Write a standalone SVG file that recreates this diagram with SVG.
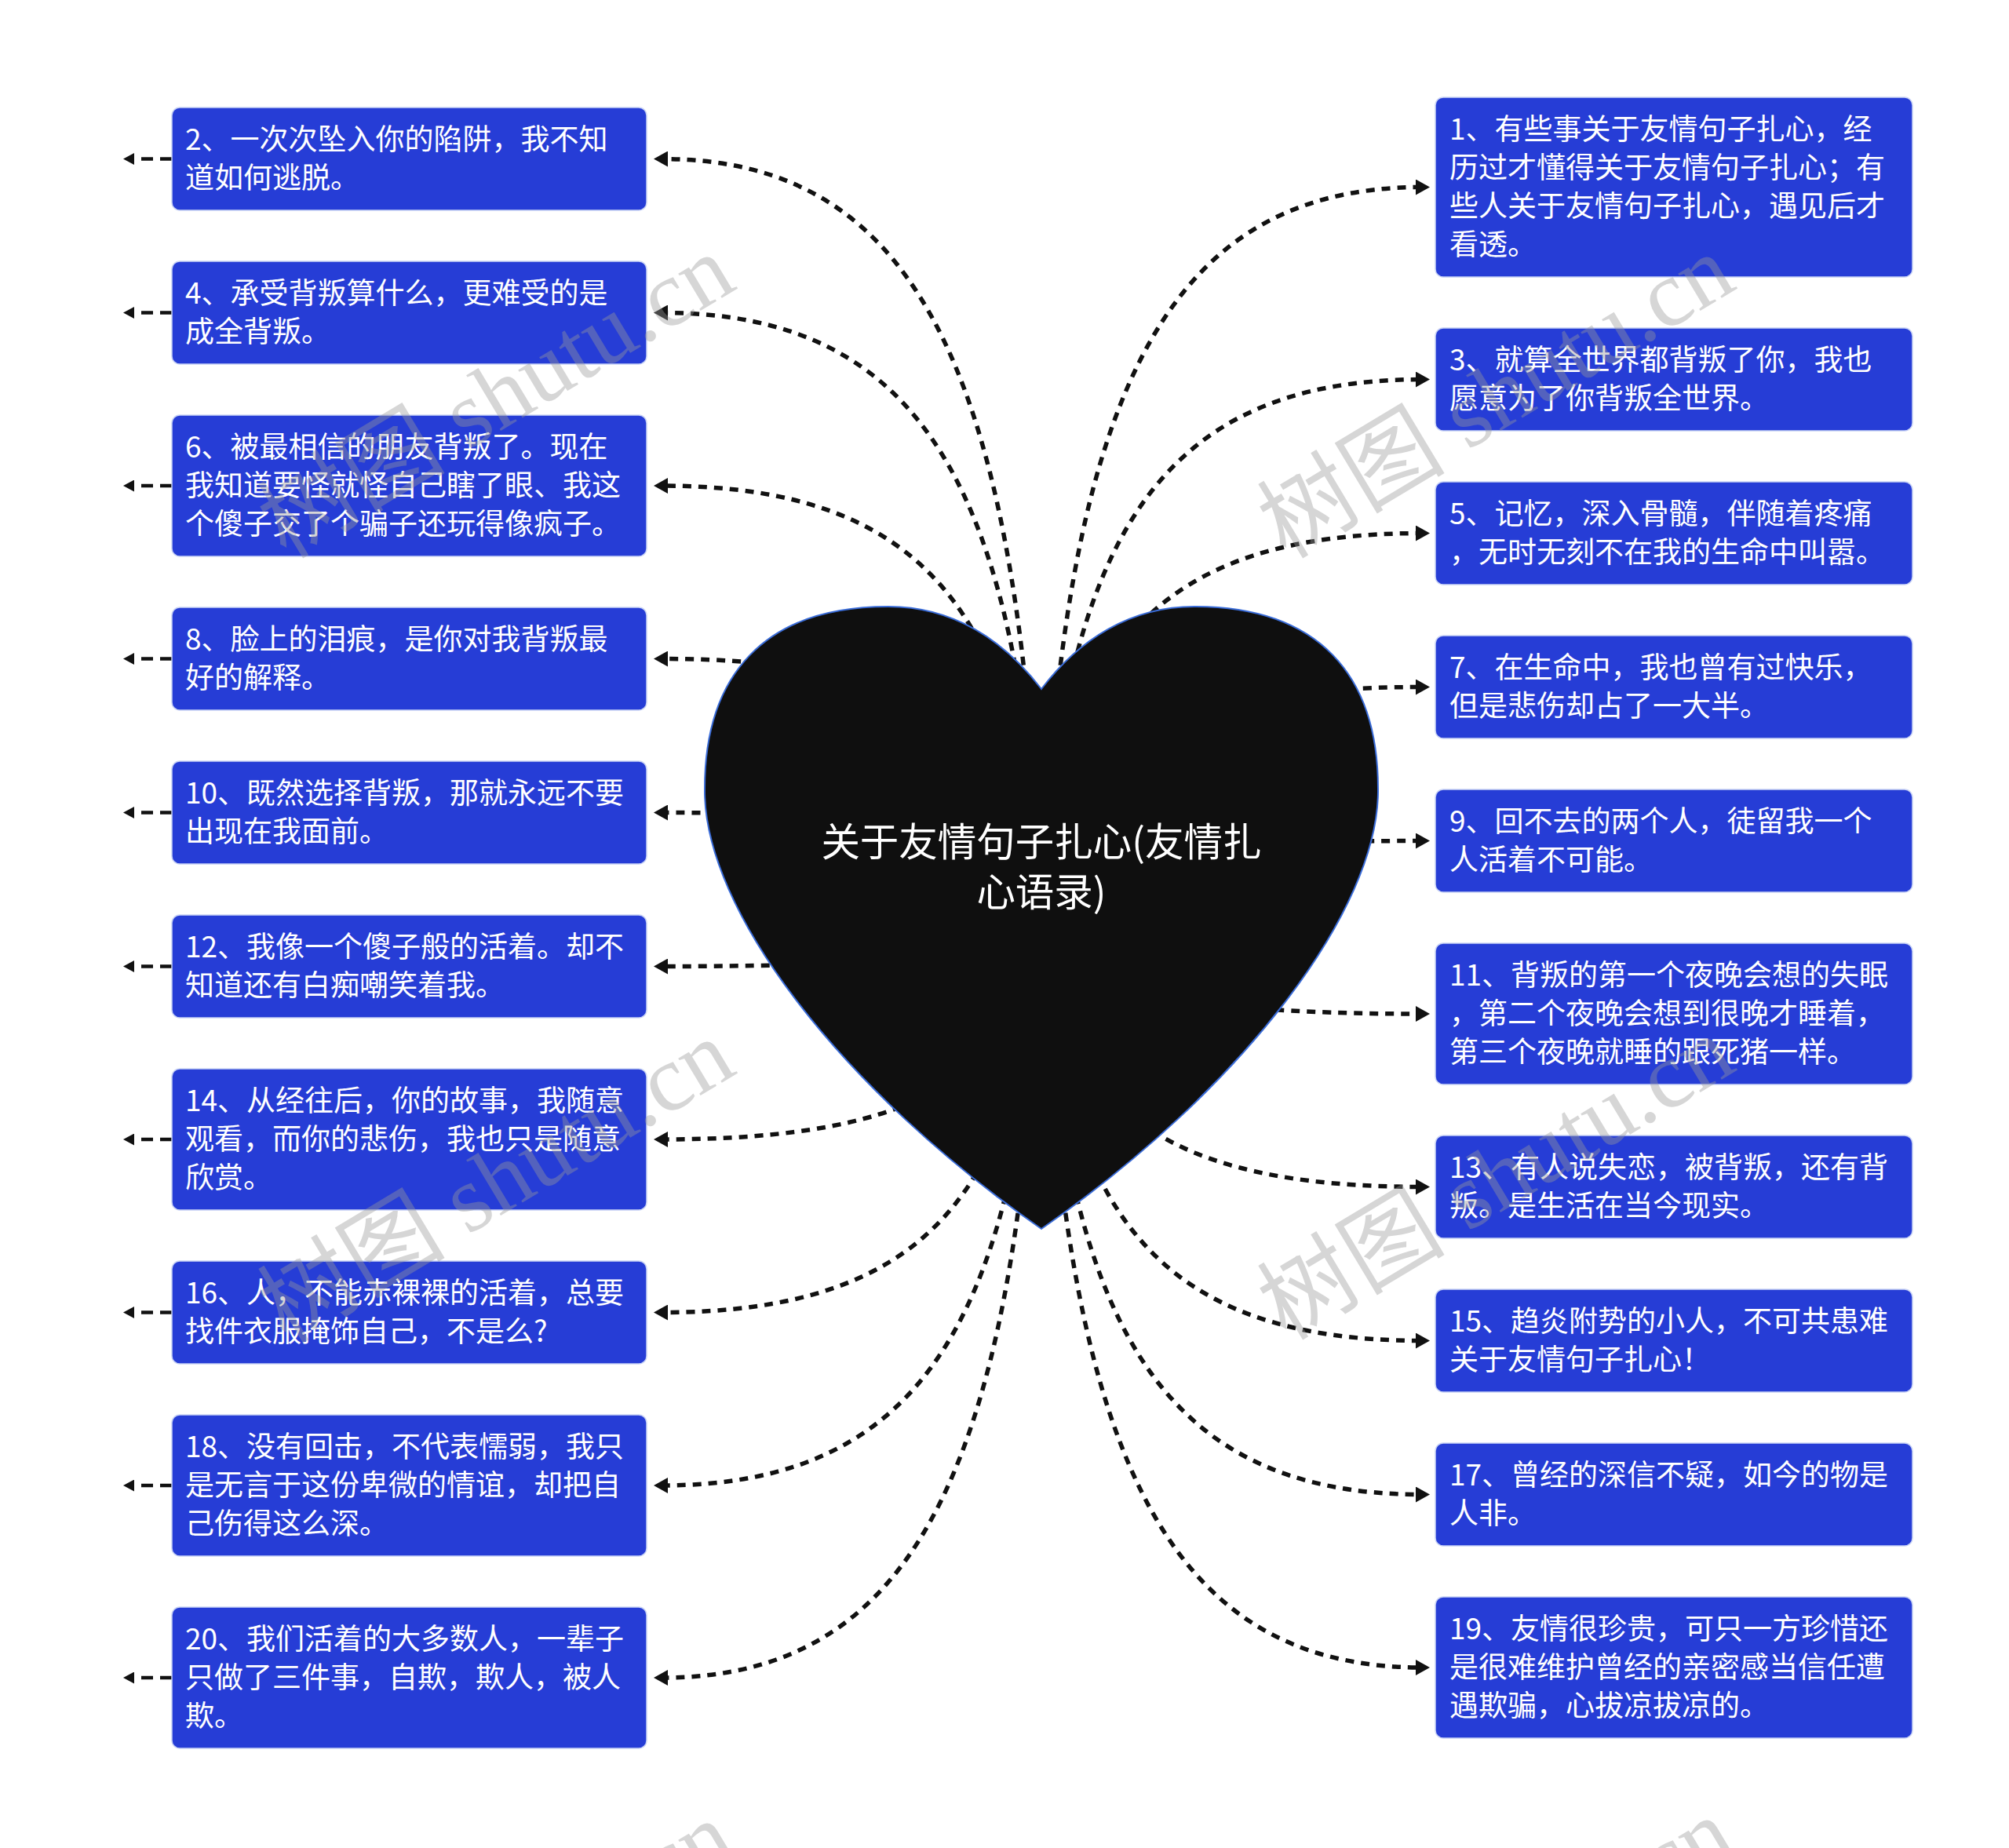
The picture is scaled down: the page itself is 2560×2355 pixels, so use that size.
<svg xmlns="http://www.w3.org/2000/svg" width="2560" height="2355" viewBox="0 0 2560 2355">
<defs>
<style>
.box{fill:#263dd6;stroke:#c9d3f5;stroke-width:1.5}
.bt{font-family:"Noto Sans CJK SC","Noto Sans",sans-serif;font-size:37px;fill:#ffffff}
.ct{font-family:"Noto Sans CJK SC","Noto Sans",sans-serif;font-size:49.5px;fill:#ffffff;text-anchor:middle}
.con{fill:none;stroke:#111111;stroke-width:5.5;stroke-dasharray:11 9;marker-end:url(#arr)}
.stub{fill:none;stroke:#111111;stroke-width:4.5;stroke-dasharray:15 9;marker-end:url(#arrs)}
.wm{font-family:"Liberation Serif","Noto Sans CJK SC",serif;font-size:120px;fill:#9a9a9a;opacity:0.4;text-anchor:middle}
</style>
<marker id="arr" viewBox="0 0 18 20" refX="8" refY="10" markerWidth="18" markerHeight="20" orient="auto" markerUnits="userSpaceOnUse"><path d="M0,0 L18,10 L0,20 Z" fill="#111111"/></marker>
<marker id="arrs" viewBox="0 0 14 15" refX="6" refY="7.5" markerWidth="14" markerHeight="15" orient="auto" markerUnits="userSpaceOnUse"><path d="M0,0 L14,7.5 L0,15 Z" fill="#111111"/></marker>
</defs>
<rect width="2560" height="2355" fill="#ffffff"/>
<g id="connectors">
<path class="con" d="M1327,1167 C1352,517 1476,238.5 1812,238.5"/>
<path class="con" d="M1327,1167 C1352,688.5 1476,483.5 1812,483.5"/>
<path class="con" d="M1327,1167 C1352,825.8 1476,679.5 1812,679.5"/>
<path class="con" d="M1327,1167 C1352,963 1476,875.5 1812,875.5"/>
<path class="con" d="M1327,1167 C1352,1100.2 1476,1071.5 1812,1071.5"/>
<path class="con" d="M1327,1167 C1352,1254.5 1476,1292 1812,1292"/>
<path class="con" d="M1327,1167 C1352,1408.9 1476,1512.5 1812,1512.5"/>
<path class="con" d="M1327,1167 C1352,1546 1476,1708.5 1812,1708.5"/>
<path class="con" d="M1327,1167 C1352,1683.3 1476,1904.5 1812,1904.5"/>
<path class="con" d="M1327,1167 C1352,1837.6 1476,2125 1812,2125"/>
<path class="con" d="M1327,1167 C1302,491.9 1179,202.5 843,202.5"/>
<path class="con" d="M1327,1167 C1302,629 1179,398.5 843,398.5"/>
<path class="con" d="M1327,1167 C1302,783.4 1179,619 843,619"/>
<path class="con" d="M1327,1167 C1302,937.8 1179,839.5 843,839.5"/>
<path class="con" d="M1327,1167 C1302,1075 1179,1035.5 843,1035.5"/>
<path class="con" d="M1327,1167 C1302,1212.2 1179,1231.5 843,1231.5"/>
<path class="con" d="M1327,1167 C1302,1366.5 1179,1452 843,1452"/>
<path class="con" d="M1327,1167 C1302,1520.9 1179,1672.5 843,1672.5"/>
<path class="con" d="M1327,1167 C1302,1675.2 1179,1893 843,1893"/>
<path class="con" d="M1327,1167 C1302,1846.7 1179,2138 843,2138"/>
<path class="stub" d="M219,202.5 L165,202.5"/>
<path class="stub" d="M219,398.5 L165,398.5"/>
<path class="stub" d="M219,619 L165,619"/>
<path class="stub" d="M219,839.5 L165,839.5"/>
<path class="stub" d="M219,1035.5 L165,1035.5"/>
<path class="stub" d="M219,1231.5 L165,1231.5"/>
<path class="stub" d="M219,1452 L165,1452"/>
<path class="stub" d="M219,1672.5 L165,1672.5"/>
<path class="stub" d="M219,1893 L165,1893"/>
<path class="stub" d="M219,2138 L165,2138"/>
</g>
<g id="center">
<path d="M1327,878 C1375,815 1440,773 1522,773 C1680,773 1756,860 1756,1005 C1758,1160 1580,1390 1327,1566 C1074,1390 896,1160 898,1005 C898,860 974,773 1132,773 C1214,773 1279,815 1327,878 Z" fill="#0f0f0f" stroke="#3a6cd8" stroke-width="2"/>
<text class="ct" x="1327" y="1091">关于友情句子扎心(友情扎</text>
<text class="ct" x="1327" y="1155">心语录)</text>
</g>
<g id="node-2"><rect class="box" x="219" y="137" width="605" height="131" rx="10"/><text class="bt" x="236" y="191">2、一次次坠入你的陷阱，我不知</text><text class="bt" x="236" y="240">道如何逃脱。</text></g>
<g id="node-4"><rect class="box" x="219" y="333" width="605" height="131" rx="10"/><text class="bt" x="236" y="387">4、承受背叛算什么，更难受的是</text><text class="bt" x="236" y="436">成全背叛。</text></g>
<g id="node-6"><rect class="box" x="219" y="529" width="605" height="180" rx="10"/><text class="bt" x="236" y="583">6、被最相信的朋友背叛了。现在</text><text class="bt" x="236" y="632">我知道要怪就怪自己瞎了眼、我这</text><text class="bt" x="236" y="681">个傻子交了个骗子还玩得像疯子。</text></g>
<g id="node-8"><rect class="box" x="219" y="774" width="605" height="131" rx="10"/><text class="bt" x="236" y="828">8、脸上的泪痕，是你对我背叛最</text><text class="bt" x="236" y="877">好的解释。</text></g>
<g id="node-10"><rect class="box" x="219" y="970" width="605" height="131" rx="10"/><text class="bt" x="236" y="1024">10、既然选择背叛，那就永远不要</text><text class="bt" x="236" y="1073">出现在我面前。</text></g>
<g id="node-12"><rect class="box" x="219" y="1166" width="605" height="131" rx="10"/><text class="bt" x="236" y="1220">12、我像一个傻子般的活着。却不</text><text class="bt" x="236" y="1269">知道还有白痴嘲笑着我。</text></g>
<g id="node-14"><rect class="box" x="219" y="1362" width="605" height="180" rx="10"/><text class="bt" x="236" y="1416">14、从经往后，你的故事，我随意</text><text class="bt" x="236" y="1465">观看，而你的悲伤，我也只是随意</text><text class="bt" x="236" y="1514">欣赏。</text></g>
<g id="node-16"><rect class="box" x="219" y="1607" width="605" height="131" rx="10"/><text class="bt" x="236" y="1661">16、人，不能赤裸裸的活着，总要</text><text class="bt" x="236" y="1710">找件衣服掩饰自己，不是么?</text></g>
<g id="node-18"><rect class="box" x="219" y="1803" width="605" height="180" rx="10"/><text class="bt" x="236" y="1857">18、没有回击，不代表懦弱，我只</text><text class="bt" x="236" y="1906">是无言于这份卑微的情谊，却把自</text><text class="bt" x="236" y="1955">己伤得这么深。</text></g>
<g id="node-20"><rect class="box" x="219" y="2048" width="605" height="180" rx="10"/><text class="bt" x="236" y="2102">20、我们活着的大多数人，一辈子</text><text class="bt" x="236" y="2151">只做了三件事，自欺，欺人，被人</text><text class="bt" x="236" y="2200">欺。</text></g>
<g id="node-1"><rect class="box" x="1829" y="124" width="608" height="229" rx="10"/><text class="bt" x="1847" y="178">1、有些事关于友情句子扎心，经</text><text class="bt" x="1847" y="227">历过才懂得关于友情句子扎心；有</text><text class="bt" x="1847" y="276">些人关于友情句子扎心，遇见后才</text><text class="bt" x="1847" y="325">看透。</text></g>
<g id="node-3"><rect class="box" x="1829" y="418" width="608" height="131" rx="10"/><text class="bt" x="1847" y="472">3、就算全世界都背叛了你，我也</text><text class="bt" x="1847" y="521">愿意为了你背叛全世界。</text></g>
<g id="node-5"><rect class="box" x="1829" y="614" width="608" height="131" rx="10"/><text class="bt" x="1847" y="668">5、记忆，深入骨髓，伴随着疼痛</text><text class="bt" x="1847" y="717">，无时无刻不在我的生命中叫嚣。</text></g>
<g id="node-7"><rect class="box" x="1829" y="810" width="608" height="131" rx="10"/><text class="bt" x="1847" y="864">7、在生命中，我也曾有过快乐，</text><text class="bt" x="1847" y="913">但是悲伤却占了一大半。</text></g>
<g id="node-9"><rect class="box" x="1829" y="1006" width="608" height="131" rx="10"/><text class="bt" x="1847" y="1060">9、回不去的两个人，徒留我一个</text><text class="bt" x="1847" y="1109">人活着不可能。</text></g>
<g id="node-11"><rect class="box" x="1829" y="1202" width="608" height="180" rx="10"/><text class="bt" x="1847" y="1256">11、背叛的第一个夜晚会想的失眠</text><text class="bt" x="1847" y="1305">，第二个夜晚会想到很晚才睡着，</text><text class="bt" x="1847" y="1354">第三个夜晚就睡的跟死猪一样。</text></g>
<g id="node-13"><rect class="box" x="1829" y="1447" width="608" height="131" rx="10"/><text class="bt" x="1847" y="1501">13、有人说失恋，被背叛，还有背</text><text class="bt" x="1847" y="1550">叛。是生活在当今现实。</text></g>
<g id="node-15"><rect class="box" x="1829" y="1643" width="608" height="131" rx="10"/><text class="bt" x="1847" y="1697">15、趋炎附势的小人，不可共患难</text><text class="bt" x="1847" y="1746">关于友情句子扎心！</text></g>
<g id="node-17"><rect class="box" x="1829" y="1839" width="608" height="131" rx="10"/><text class="bt" x="1847" y="1893">17、曾经的深信不疑，如今的物是</text><text class="bt" x="1847" y="1942">人非。</text></g>
<g id="node-19"><rect class="box" x="1829" y="2035" width="608" height="180" rx="10"/><text class="bt" x="1847" y="2089">19、友情很珍贵，可只一方珍惜还</text><text class="bt" x="1847" y="2138">是很难维护曾经的亲密感当信任遭</text><text class="bt" x="1847" y="2187">遇欺骗，心拔凉拔凉的。</text></g>
<g id="watermarks">
<text class="wm" transform="translate(653,540) rotate(-31)">树图 shutu.cn</text>
<text class="wm" transform="translate(1927,540) rotate(-31)">树图 shutu.cn</text>
<text class="wm" transform="translate(653,1540) rotate(-31)">树图 shutu.cn</text>
<text class="wm" transform="translate(1927,1536) rotate(-31)">树图 shutu.cn</text>
<text class="wm" transform="translate(653,2536) rotate(-31)">树图 shutu.cn</text>
<text class="wm" transform="translate(1927,2532) rotate(-31)">树图 shutu.cn</text>
</g>
</svg>
